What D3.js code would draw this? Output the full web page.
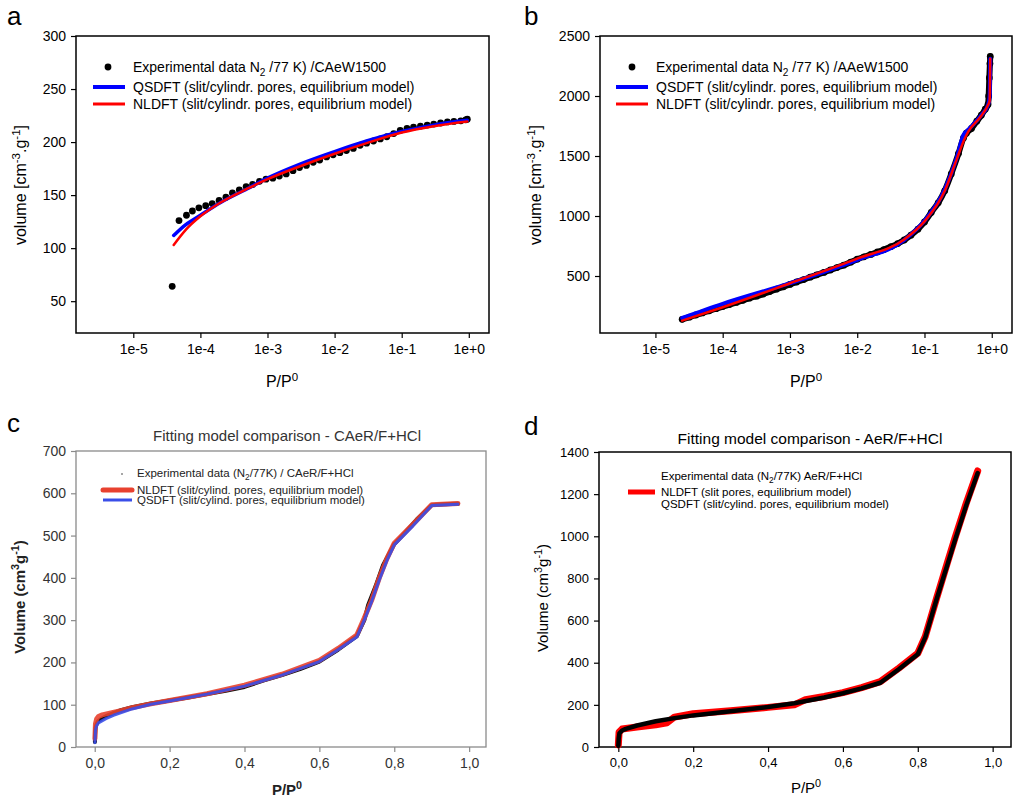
<!DOCTYPE html>
<html>
<head>
<meta charset="utf-8">
<script src="https://cdn.jsdelivr.net/npm/d3@7"></script>
<style>
  body { margin: 0; background: #fff; }
  svg text { font-family: "Liberation Sans", Arial, sans-serif; }
</style>
</head>
<body>
<div id="chart"></div>
<script>
// ---- panel a: CAeW1500, log x ----
var expA_x = [3.8e-5, 4.8e-5, 6.2e-5, 7.6e-5, 9.5e-5, 1.2e-4, 1.5e-4, 1.9e-4, 2.4e-4, 3.0e-4, 3.8e-4, 4.8e-4, 6.0e-4, 7.6e-4, 9.5e-4,
  1.2e-3, 1.5e-3, 1.9e-3, 2.4e-3, 3.0e-3, 3.8e-3, 4.8e-3, 6.0e-3, 7.6e-3, 9.5e-3, 0.012, 0.015, 0.019, 0.024, 0.030, 0.038, 0.048,
  0.060, 0.076, 0.095, 0.12, 0.15, 0.19, 0.24, 0.30, 0.38, 0.48, 0.60, 0.76, 0.90, 0.95];
var expA_y = [64, 126, 131, 135, 138, 140, 142, 145, 148, 152, 155, 158, 160, 163, 165,
  166, 168, 170, 173, 176, 178, 181, 183, 186, 188, 190, 192, 194, 197, 199, 201, 203,
  205, 208, 211, 213, 214, 215, 216, 217, 218, 219, 219.5, 220, 221, 221.5];
var qsA_x = [4e-5, 6e-5, 1e-4, 2e-4, 5e-4, 1e-3, 3e-3, 1e-2, 3e-2, 0.1, 0.3, 0.95];
var qsA_y = [112, 122, 131, 143, 156, 166, 179, 191, 201, 210, 216, 220.5];
var nlA_x = [4e-5, 6e-5, 1e-4, 2e-4, 5e-4, 1e-3, 3e-3, 1e-2, 3e-2, 0.1, 0.3, 0.95];
var nlA_y = [103, 117, 130, 143, 156, 165, 177, 189, 199, 209, 215, 219.5];

// ---- panel b: AAeW1500, log x ----
var expB_x = [2.5e-5, 3.2e-5, 4e-5, 5e-5, 6.3e-5, 8e-5, 1e-4, 1.26e-4, 1.6e-4, 2e-4, 2.5e-4, 3.2e-4, 4e-4, 5e-4, 6.3e-4, 8e-4,
  1e-3, 1.26e-3, 1.6e-3, 2e-3, 2.5e-3, 3.2e-3, 4e-3, 5e-3, 6.3e-3, 8e-3, 0.01, 0.0126, 0.016, 0.02, 0.025, 0.032, 0.04, 0.05,
  0.063, 0.08, 0.1, 0.126, 0.16, 0.2, 0.25, 0.32, 0.38, 0.42, 0.5, 0.6, 0.7, 0.8, 0.88, 0.9, 0.92, 0.94, 0.95];
var expB_y = [139, 157, 175, 192, 210, 228, 245, 262, 280, 297, 315, 332, 350, 370, 390, 410,
  430, 450, 470, 490, 510, 530, 550, 570, 590, 615, 640, 660, 680, 700, 720, 745, 770, 800,
  840, 890, 950, 1030, 1110, 1210, 1350, 1520, 1650, 1690, 1730, 1790, 1840, 1890, 1930, 2000, 2150, 2270, 2330];
var qsB_x = [2.5e-5, 1e-4, 1e-3, 1e-2, 0.05, 0.1, 0.2, 0.3, 0.38, 0.45, 0.7, 0.88, 0.93, 0.95];
var qsB_y = [150, 268, 440, 635, 800, 960, 1220, 1480, 1675, 1720, 1840, 1925, 1990, 2310];
var nlB_x = [2.5e-5, 1e-4, 1e-3, 1e-2, 0.05, 0.1, 0.2, 0.3, 0.4, 0.45, 0.7, 0.88, 0.93, 0.95];
var nlB_y = [128, 240, 440, 645, 805, 955, 1210, 1470, 1650, 1705, 1835, 1925, 1960, 2310];

// ---- panel c: CAeR/F+HCl, linear x ----
var expC_x = [0.0005, 0.001, 0.002, 0.004, 0.007, 0.01, 0.02, 0.03, 0.05, 0.07, 0.1, 0.15, 0.2, 0.25, 0.3, 0.35, 0.4, 0.45, 0.5,
  0.55, 0.6, 0.65, 0.7, 0.72, 0.73, 0.75, 0.77, 0.8, 0.83, 0.86, 0.9, 0.93, 0.97];
var expC_y = [12, 30, 45, 52, 58, 62, 68, 73, 80, 87, 94, 103, 110, 117, 125, 133, 142, 157, 170,
  185, 202, 230, 262, 300, 335, 380, 430, 480, 508, 538, 572, 574, 575];
var nlC_x = [0.0005, 0.002, 0.005, 0.01, 0.02, 0.04, 0.07, 0.1, 0.15, 0.2, 0.3, 0.4, 0.5, 0.6, 0.65, 0.7, 0.72, 0.74, 0.76, 0.78,
  0.8, 0.85, 0.9, 0.97];
var nlC_y = [20, 55, 66, 72, 76, 80, 86, 93, 102, 110, 126, 146, 172, 205, 233, 265, 305, 348, 400, 445,
  482, 527, 573, 576];
var qsC_x = [0.0005, 0.002, 0.005, 0.01, 0.03, 0.05, 0.1, 0.15, 0.2, 0.3, 0.4, 0.5, 0.6, 0.65, 0.7, 0.72, 0.74, 0.76, 0.78,
  0.8, 0.85, 0.9, 0.97];
var qsC_y = [10, 40, 50, 57, 67, 75, 90, 101, 109, 125, 144, 170, 202, 230, 260, 300, 345, 395, 440,
  478, 523, 571, 574];

// ---- panel d: AeR/F+HCl, linear x ----
var qsD_x = [0.0, 0.001, 0.003, 0.01, 0.02, 0.05, 0.1, 0.15, 0.2, 0.3, 0.4, 0.47, 0.55, 0.6, 0.65, 0.7, 0.75, 0.8, 0.82, 0.85,
  0.88, 0.9, 0.93, 0.96];
var qsD_y = [5, 40, 65, 78, 86, 102, 122, 137, 150, 170, 190, 208, 235, 255, 278, 305, 370, 440, 520, 700,
  870, 985, 1150, 1300];
var nlD_x = [0.0, 0.002, 0.01, 0.05, 0.1, 0.13, 0.15, 0.2, 0.3, 0.4, 0.47, 0.5, 0.55, 0.6, 0.65, 0.7, 0.75, 0.8, 0.82, 0.85,
  0.88, 0.9, 0.93, 0.96];
var nlD_y = [10, 70, 85, 95, 105, 115, 142, 158, 172, 188, 200, 225, 240, 258, 282, 310, 375, 445, 525, 705,
  880, 995, 1160, 1310];

var logTicks = [1e-5, 1e-4, 1e-3, 1e-2, 1e-1, 1];
var linTicks = [0, 0.2, 0.4, 0.6, 0.8, 1.0];

function zip(xs, ys) { return xs.map(function(x, i) { return [x, ys[i]]; }); }
function logFmt(d) { var e = Math.round(Math.log10(d)); return "1e" + (e < 0 ? "-" + (-e) : "+" + e); }
function commaFmt(d) { return d3.format(".1f")(d).replace(".", ","); }

var svg = d3.select("#chart").append("svg").attr("width", 1018).attr("height", 800);

function panel(o) {
  var x = (o.log ? d3.scaleLog() : d3.scaleLinear()).domain(o.xd).range([o.l, o.r]);
  var y = d3.scaleLinear().domain(o.yd).range([o.b, o.t]);
  var g = svg.append("g");
  var col = o.axisColor || "#000";

  var ya = g.append("g").attr("transform", "translate(" + o.l + ",0)")
    .call(d3.axisLeft(y).tickValues(o.yTicks).tickFormat(d3.format("d")).tickSize(5).tickPadding(5).tickSizeOuter(0));
  var xa = g.append("g").attr("transform", "translate(0," + o.b + ")")
    .call(d3.axisBottom(x).tickValues(o.xTicks).tickFormat(o.xFmt).tickSize(5).tickPadding(6).tickSizeOuter(0));
  [ya, xa].forEach(function(a) {
    a.select(".domain").remove();
    a.selectAll(".tick line").attr("stroke", col).attr("stroke-width", 1.2);
    a.selectAll(".tick text").attr("fill", o.tickText || "#000").style("font-size", o.tickSize + "px")
      .style("font-family", "'Liberation Sans', Arial, sans-serif");
  });
  g.append("rect").attr("x", o.l).attr("y", o.t).attr("width", o.r - o.l).attr("height", o.b - o.t)
    .attr("fill", "none").attr("stroke", col).attr("stroke-width", o.frameW || 1.5);

  var line = d3.line().x(function(d) { return x(d[0]); }).y(function(d) { return y(d[1]); })
    .curve(o.log ? d3.curveMonotoneX : d3.curveLinear);
  o.series.forEach(function(s) {
    var data = zip(s.x, s.y);
    if (s.dots) {
      g.append("g").selectAll("circle").data(data).enter().append("circle")
        .attr("cx", function(d) { return x(d[0]); }).attr("cy", function(d) { return y(d[1]); })
        .attr("r", s.r).attr("fill", s.color);
    } else {
      g.append("path").datum(data).attr("d", line).attr("fill", "none")
        .attr("stroke", s.color).attr("stroke-width", s.w).attr("stroke-linejoin", "round").attr("stroke-linecap", "round")
        .attr("opacity", s.op || 1);
    }
  });
  return g;
}

function richText(g, x, y, parts, opts) {
  var t = g.append("text").attr("x", x).attr("y", y).style("font-size", opts.size + "px")
    .attr("fill", opts.color || "#000").attr("text-anchor", opts.anchor || "start");
  if (opts.rotate) t.attr("transform", "rotate(-90," + x + "," + y + ")");
  if (opts.weight) t.style("font-weight", opts.weight);
  if (opts.family) t.style("font-family", opts.family);
  var shift = 0;
  parts.forEach(function(p) {
    var target = p.sup ? -opts.size * 0.4 : p.sub ? opts.size * 0.3 : 0;
    var dy = target - shift; shift = target;
    var ts = t.append("tspan").text(p.t).attr("dy", dy);
    if (p.sup || p.sub) ts.style("font-size", (opts.size * 0.72) + "px");
  });
  return t;
}

// ----- a -----
var ga = panel({ log: true, xd: [1.4e-6, 2], yd: [20, 300], l: 76, r: 489, t: 36, b: 333,
  xTicks: logTicks, xFmt: logFmt, yTicks: [50, 100, 150, 200, 250, 300], tickSize: 14,
  series: [
    { x: expA_x, y: expA_y, dots: true, r: 3.4, color: "#000" },
    { x: qsA_x, y: qsA_y, color: "#0000ff", w: 3.5 },
    { x: nlA_x, y: nlA_y, color: "#ff0000", w: 2.5 }
  ] });
ga.append("circle").attr("cx", 108).attr("cy", 67).attr("r", 3.4).attr("fill", "#000");
richText(ga, 133, 72, [{ t: "Experimental data N" }, { t: "2", sub: true }, { t: " /77 K) /CAeW1500" }], { size: 14 });
ga.append("line").attr("x1", 93).attr("x2", 125).attr("y1", 87).attr("y2", 87).attr("stroke", "#0000ff").attr("stroke-width", 4);
richText(ga, 133, 92, [{ t: "QSDFT (slit/cylindr. pores, equilibrium model)" }], { size: 14 });
ga.append("line").attr("x1", 93).attr("x2", 125).attr("y1", 104).attr("y2", 104).attr("stroke", "#ff0000").attr("stroke-width", 3);
richText(ga, 133, 109, [{ t: "NLDFT (slit/cylindr. pores, equilibrium model)" }], { size: 14 });
richText(ga, 26, 185, [{ t: "volume [cm" }, { t: "-3", sup: true }, { t: ".g" }, { t: "-1", sup: true }, { t: "]" }], { size: 16, rotate: true, anchor: "middle" });
richText(ga, 282, 387, [{ t: "P/P" }, { t: "0", sup: true }], { size: 16, anchor: "middle" });
ga.append("text").attr("x", 7).attr("y", 25).style("font-size", "26px").text("a");

// ----- b -----
var gb = panel({ log: true, xd: [1.5e-6, 2], yd: [25, 2500], l: 600, r: 1012, t: 36, b: 333,
  xTicks: logTicks, xFmt: logFmt, yTicks: [500, 1000, 1500, 2000, 2500], tickSize: 14,
  series: [
    { x: expB_x, y: expB_y, dots: true, r: 3.4, color: "#000" },
    { x: expB_x, y: expB_y, color: "#000", w: 6 },
    { x: qsB_x, y: qsB_y, color: "#0000ff", w: 4 },
    { x: nlB_x, y: nlB_y, color: "#ff0000", w: 2.5 }
  ] });
gb.append("circle").attr("cx", 632).attr("cy", 67).attr("r", 3.4).attr("fill", "#000");
richText(gb, 656, 72, [{ t: "Experimental data N" }, { t: "2", sub: true }, { t: " /77 K) /AAeW1500" }], { size: 14 });
gb.append("line").attr("x1", 616).attr("x2", 648).attr("y1", 87).attr("y2", 87).attr("stroke", "#0000ff").attr("stroke-width", 4);
richText(gb, 656, 92, [{ t: "QSDFT (slit/cylindr. pores, equilibrium model)" }], { size: 14 });
gb.append("line").attr("x1", 616).attr("x2", 648).attr("y1", 104).attr("y2", 104).attr("stroke", "#ff0000").attr("stroke-width", 3);
richText(gb, 656, 109, [{ t: "NLDFT (slit/cylindr. pores, equilibrium model)" }], { size: 14 });
richText(gb, 541, 185, [{ t: "volume [cm" }, { t: "-3", sup: true }, { t: ".g" }, { t: "-1", sup: true }, { t: "]" }], { size: 16, rotate: true, anchor: "middle" });
richText(gb, 806, 387, [{ t: "P/P" }, { t: "0", sup: true }], { size: 16, anchor: "middle" });
gb.append("text").attr("x", 524).attr("y", 25).style("font-size", "26px").text("b");

// ----- c -----
var gc = panel({ log: false, xd: [-0.05, 1.045], yd: [0, 700], l: 76, r: 486, t: 451, b: 747,
  xTicks: linTicks, xFmt: commaFmt, yTicks: [0, 100, 200, 300, 400, 500, 600, 700], tickSize: 14,
  axisColor: "#8a8a8a", tickText: "#333", frameW: 1.3,
  series: [
    { x: expC_x, y: expC_y, color: "#111", w: 4 },
    { x: nlC_x, y: nlC_y, color: "#e8412f", w: 5, op: 0.9 },
    { x: qsC_x, y: qsC_y, color: "#3a4ee8", w: 3, op: 0.9 }
  ] });
var narrow = "'Liberation Sans Narrow', 'Liberation Sans', Arial, sans-serif";
gc.append("circle").attr("cx", 122).attr("cy", 474).attr("r", 1).attr("fill", "#888");
richText(gc, 137, 477, [{ t: "Experimental data (N" }, { t: "2", sub: true }, { t: "/77K) / CAeR/F+HCl" }], { size: 11.5, family: narrow, color: "#222" });
gc.append("line").attr("x1", 103).attr("x2", 132).attr("y1", 490).attr("y2", 490).attr("stroke", "#e8412f").attr("stroke-width", 5).attr("stroke-linecap", "round");
richText(gc, 137, 494, [{ t: "NLDFT (slit/cylind. pores, equilibrium model)" }], { size: 11.5, family: narrow, color: "#222" });
gc.append("line").attr("x1", 103).attr("x2", 132).attr("y1", 500).attr("y2", 500).attr("stroke", "#3a4ee8").attr("stroke-width", 3);
richText(gc, 137, 504, [{ t: "QSDFT (slit/cylind. pores, equilibrium model)" }], { size: 11.5, family: narrow, color: "#222" });
gc.append("text").attr("x", 287).attr("y", 441).attr("text-anchor", "middle").style("font-size", "15px").attr("fill", "#333")
  .text("Fitting model comparison - CAeR/F+HCl");
richText(gc, 25, 597, [{ t: "Volume (cm" }, { t: "3", sup: true }, { t: "g" }, { t: "-1", sup: true }, { t: ")" }], { size: 15, rotate: true, anchor: "middle", color: "#222", weight: "bold" });
richText(gc, 287, 795, [{ t: "P/P" }, { t: "0", sup: true }], { size: 15, anchor: "middle", color: "#222", weight: "bold" });
gc.append("text").attr("x", 7).attr("y", 432).style("font-size", "26px").text("c");

// ----- d -----
var gd = panel({ log: false, xd: [-0.0516, 1.049], yd: [0, 1400], l: 599, r: 1011, t: 452, b: 747,
  xTicks: linTicks, xFmt: commaFmt, yTicks: [0, 200, 400, 600, 800, 1000, 1200, 1400], tickSize: 13,
  series: [
    { x: nlD_x, y: nlD_y, color: "#ff0000", w: 7 },
    { x: qsD_x, y: qsD_y, color: "#000", w: 4.5 }
  ] });
richText(gd, 661, 480, [{ t: "Experimental data (N" }, { t: "2", sub: true }, { t: "/77K) AeR/F+HCl" }], { size: 11.5 });
gd.append("line").attr("x1", 628).attr("x2", 655).attr("y1", 492).attr("y2", 492).attr("stroke", "#ff0000").attr("stroke-width", 5);
richText(gd, 661, 496, [{ t: "NLDFT (slit pores, equilibrium model)" }], { size: 11.5 });
richText(gd, 661, 507.5, [{ t: "QSDFT (slit/cylind. pores, equilibrium model)" }], { size: 11.5 });
gd.append("text").attr("x", 810).attr("y", 444).attr("text-anchor", "middle").style("font-size", "15.5px")
  .text("Fitting model comparison - AeR/F+HCl");
richText(gd, 548, 598, [{ t: "Volume (cm" }, { t: "3", sup: true }, { t: "g" }, { t: "-1", sup: true }, { t: ")" }], { size: 15, rotate: true, anchor: "middle" });
richText(gd, 806, 793, [{ t: "P/P" }, { t: "0", sup: true }], { size: 15, anchor: "middle" });
gd.append("text").attr("x", 524).attr("y", 435).style("font-size", "26px").text("d");
</script>
</body>
</html>
